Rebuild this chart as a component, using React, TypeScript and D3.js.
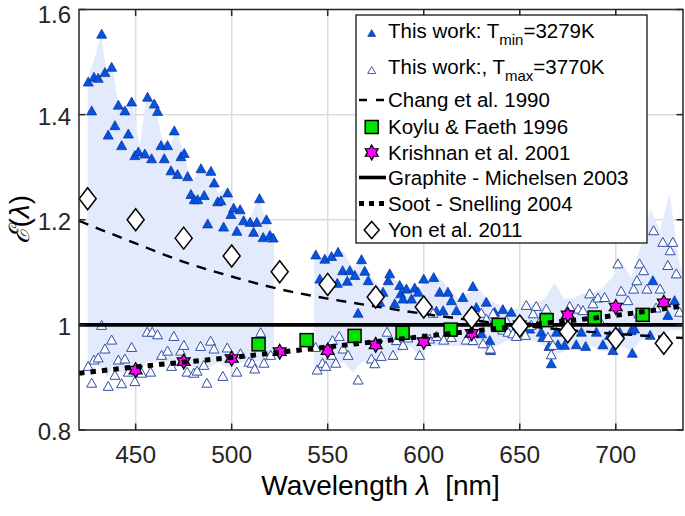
import * as d3 from "d3";

// This work, T_min (filled triangles)
const tminLambda = [
  425.3, 427.1, 428.3, 430.5, 432.3, 434.0, 435.7, 437.5, 439.2, 441.0, 442.7, 444.4, 446.2, 447.9, 449.6,
  451.4, 454.8, 456.2, 458.3, 459.7, 461.4, 463.2, 464.9, 466.6, 468.4, 470.1, 471.8, 473.6, 475.3, 477.1,
  478.8, 480.5, 482.3, 484.0, 485.7, 487.5, 489.2, 490.9, 492.7, 494.4, 495.8, 497.9, 499.6, 501.0, 502.7,
  504.4, 506.2, 509.6, 511.4, 513.1, 514.5, 516.4, 518.1, 519.9, 521.6,
  543.8, 545.9, 548.5, 552.0, 555.0, 555.4, 557.8, 560.2, 561.5, 564.1, 565.8, 567.6, 569.3, 571.1, 577.1,
  578.8, 581.5, 582.3, 584.9, 587.5, 588.0, 589.2, 591.0, 593.6, 595.3, 597.1, 600.0, 605.2, 606.6, 608.3,
  610.1, 612.6, 614.4, 617.0, 620.4, 625.6, 627.4, 630.1, 632.6, 634.4, 634.8, 636.9, 641.2, 645.6, 655.2,
  661.2, 662.0, 665.2, 666.4, 669.1, 669.9, 673.3, 679.4, 682.1, 684.3, 689.9, 693.3, 696.8, 698.5, 702.0,
  708.0, 708.6, 709.8, 717.9, 719.3, 727.1, 730.6,
];
const tminValue = [
  1.463, 1.408, 1.472, 1.470, 1.554, 1.481, 1.362, 1.491, 1.380, 1.419, 1.342, 1.408, 1.364, 1.425, 1.323,
  1.330, 1.326, 1.434, 1.317, 1.421, 1.407, 1.342, 1.317, 1.342, 1.294, 1.370, 1.287, 1.321, 1.327, 1.283,
  1.249, 1.239, 1.239, 1.298, 1.247, 1.193, 1.293, 1.271, 1.235, 1.237, 1.187, 1.252, 1.211, 1.223, 1.179,
  1.220, 1.199, 1.196, 1.177, 1.196, 1.241, 1.167, 1.201, 1.171, 1.166,
  1.134, 1.088, 1.126, 1.131, 1.080, 1.139, 1.104, 1.084, 1.104, 1.095, 1.023, 1.125, 1.103, 1.085, 1.044,
  1.063, 1.085, 1.098, 1.041, 1.076, 1.060, 1.050, 1.069, 1.050, 1.071, 1.063, 1.088, 1.091, 1.027, 1.063,
  1.028, 1.063, 1.047, 1.028, 1.053, 1.074, 1.034, 0.984, 1.044, 0.971, 0.952, 1.025, 1.030, 1.025, 0.993,
  0.987, 0.977, 0.960, 0.927, 0.987, 0.963, 0.962, 0.963, 0.987, 0.960, 0.987, 0.963, 0.981, 0.952, 0.987,
  0.990, 0.947, 0.993, 0.981, 1.085, 1.019, 1.047,
];

// This work, T_max (open triangles)
const tmaxLambda = [
  425.3, 427.1, 428.3, 430.5, 432.3, 434.0, 435.7, 437.5, 439.2, 441.0, 442.7, 444.4, 446.2, 447.9, 449.6,
  453.1, 456.0, 457.8, 458.6, 461.4, 463.5, 466.6, 468.7, 469.9, 473.4, 475.1, 476.8, 480.3, 482.0, 483.8,
  485.5, 487.1, 489.0, 490.8, 495.4, 497.7, 502.7, 504.6, 509.0, 510.7, 512.0, 515.1, 516.8, 520.3,
  543.7, 544.5, 547.3, 549.0, 552.0, 552.5, 554.2, 556.0, 558.0, 560.6, 565.8, 572.8, 574.5, 577.9, 580.9,
  584.0, 585.8, 589.2, 591.8, 597.9, 603.1, 604.9, 606.6, 610.4, 614.4, 622.1, 625.6, 630.0, 630.9, 632.6,
  634.7, 636.1, 641.2, 642.9, 643.9, 646.4, 648.2, 652.9, 653.4, 656.0, 657.0, 658.6, 661.2, 663.8, 664.7,
  666.4, 667.3, 676.0, 680.4, 682.9, 686.4, 688.1, 690.7, 691.6, 694.2, 701.1, 702.8, 706.3, 709.3, 711.0,
  712.4, 712.0, 714.5, 716.2, 719.7, 721.0, 723.1, 724.5, 727.1, 728.3, 729.7, 731.5, 733.2,
];
const tmaxValue = [
  0.922, 0.890, 0.934, 0.938, 1.000, 0.955, 0.884, 0.972, 0.905, 0.934, 0.889, 0.936, 0.911, 0.958, 0.893,
  0.909, 0.987, 0.911, 0.987, 0.982, 0.943, 0.951, 0.922, 0.979, 0.951, 0.962, 0.911, 0.909, 0.913, 0.960,
  0.924, 0.890, 0.970, 0.955, 0.903, 0.957, 0.911, 0.946, 0.930, 0.928, 0.917, 0.986, 0.928, 0.943,
  0.958, 0.915, 0.928, 0.922, 0.943, 0.971, 0.928, 0.979, 0.955, 0.943, 0.896, 0.936, 0.927, 0.941, 0.987,
  0.943, 0.971, 0.962, 0.976, 0.943, 0.974, 1.023, 0.979, 0.972, 0.977, 0.972, 0.971, 1.023, 0.965, 1.012,
  0.955, 1.022, 0.991, 1.009, 0.987, 0.984, 0.979, 0.981, 1.038, 1.000, 1.022, 1.036, 1.012, 1.031, 0.977,
  0.944, 0.962, 1.036, 1.031, 1.028, 1.060, 1.041, 1.052, 1.009, 1.053, 1.117, 1.065, 1.047, 1.069, 1.085,
  1.117, 1.022, 1.104, 1.069, 1.180, 1.033, 1.069, 1.158, 1.114, 1.142, 1.158, 1.098, 1.025,
];

// shaded spread of the measured spectra (gap marked with null)
const bandLambda = [
  425, 428, 432, 435, 438, 441, 445, 448, 452, 456, 460, 464, 468, 471, 475, 479, 484, 489, 493, 497, 501,
  505, 509, 514, 518, 522, 532,
  543, 548, 553, 558, 563, 568, 573, 578, 583, 588, 593, 598, 603, 608, 613, 618, 623, 628, 633, 638, 643,
  648, 653, 658, 663, 668, 673, 678, 683, 688, 693, 698, 703, 708, 713, 718, 723, 728, 733, 735,
];
const bandUpper = [
  1.47, 1.5, 1.55, 1.48, 1.49, 1.42, 1.41, 1.43, 1.34, 1.44, 1.42, 1.35, 1.34, 1.37, 1.33, 1.27, 1.3, 1.29,
  1.25, 1.26, 1.23, 1.22, 1.2, 1.24, 1.2, 1.17, null,
  1.13, 1.13, 1.13, 1.14, 1.11, 1.12, 1.09, 1.07, 1.09, 1.08, 1.07, 1.07, 1.09, 1.09, 1.07, 1.05, 1.06, 1.07,
  1.05, 1.04, 1.03, 1.03, 1.04, 1.04, 1.05, 1.08, 1.05, 1.05, 1.06, 1.06, 1.07, 1.09, 1.12, 1.09, 1.15, 1.22,
  1.18, 1.25, 1.12, 1.1,
];
const bandLower = [
  0.92, 0.93, 0.92, 0.9, 0.92, 0.91, 0.91, 0.92, 0.91, 0.93, 0.93, 0.93, 0.93, 0.92, 0.93, 0.92, 0.92, 0.92,
  0.93, 0.92, 0.92, 0.93, 0.93, 0.93, 0.93, 0.94, null,
  0.91, 0.92, 0.92, 0.93, 0.91, 0.93, 0.93, 0.94, 0.94, 0.95, 0.96, 0.94, 0.96, 0.96, 0.96, 0.96, 0.96, 0.96,
  0.95, 0.96, 0.97, 0.97, 0.97, 0.97, 0.96, 0.94, 0.95, 0.96, 0.96, 0.96, 0.95, 0.95, 0.96, 0.95, 0.97, 0.98,
  0.98, 0.99, 0.99, 0.99,
];

// Chang et al. 1990
const changLambda = [420.5, 450, 475, 500, 525, 550, 575, 600, 625, 650, 675, 700, 735];
const changValue = [1.198, 1.155, 1.12, 1.092, 1.068, 1.05, 1.035, 1.021, 1.009, 0.999, 0.99, 0.983, 0.975];

// Koylu & Faeth 1996
const koyluLambda = [514, 539, 564, 589, 614, 639, 664, 689, 714];
const koyluValue = [0.963, 0.971, 0.979, 0.985, 0.991, 1.0, 1.009, 1.014, 1.019];

// Krishnan et al. 2001
const krishnanLambda = [450, 475, 500, 525, 550, 575, 600, 625, 650, 675, 700, 725];
const krishnanValue = [0.914, 0.93, 0.936, 0.949, 0.951, 0.962, 0.968, 0.984, 1.0, 1.019, 1.034, 1.042];

// Graphite - Michelsen 2003
const graphiteLambda = [420.5, 735];
const graphiteValue = [1.0, 1.0];

// Soot - Snelling 2004
const sootLambda = [420.5, 450, 500, 550, 600, 650, 700, 735];
const sootValue = [0.908, 0.92, 0.938, 0.958, 0.978, 0.998, 1.018, 1.036];

// Yon et al. 2011
const yonLambda = [425, 450, 475, 500, 525, 550, 575, 600, 625, 650, 675, 700, 725];
const yonValue = [1.24, 1.2, 1.165, 1.131, 1.101, 1.077, 1.053, 1.034, 1.014, 0.998, 0.987, 0.974, 0.965];

const xTicks = [450, 500, 550, 600, 650, 700];
const yTicks = [0.8, 1, 1.2, 1.4, 1.6];

const W = 685;
const H = 516;
const FONT = "'Liberation Sans', Arial, Helvetica, sans-serif";

const triPath = (w: number, h: number) => `M0,${-h / 2}L${w / 2},${h / 2}L${-w / 2},${h / 2}Z`;
const diamondPath = (w: number, h: number) => `M0,${-h / 2}L${w / 2},0L0,${h / 2}L${-w / 2},0Z`;
const hexagramPath = (r: number) => {
  const pts: string[] = [];
  for (let i = 0; i < 12; i++) {
    const a = -Math.PI / 2 + (i * Math.PI) / 6;
    const rr = i % 2 === 0 ? r : r / Math.sqrt(3);
    pts.push(`${(rr * Math.cos(a)).toFixed(2)},${(rr * Math.sin(a)).toFixed(2)}`);
  }
  return "M" + pts.join("L") + "Z";
};

const FILL_TRI = "#0055e6";
const FILL_TRI_STROKE = "#10288a";
const OPEN_TRI_STROKE = "#2f4fa8";
const GREEN = "#00e400";
const MAGENTA = "#ff00ff";
const BAND = "#e2eafb";

export default function App() {
  const left = 79;
  const right = 683;
  const top = 9.5;
  const bottom = 430;

  const x = d3.scaleLinear().domain([420.5, 735]).range([left, right]);
  const y = d3.scaleLinear().domain([0.8, 1.6]).range([bottom, top]);

  const band = d3
    .area<number>()
    .defined((i) => bandUpper[i] != null)
    .x((i) => x(bandLambda[i]))
    .y0((i) => y(bandLower[i] as number))
    .y1((i) => y(bandUpper[i] as number));
  const bandD = band(d3.range(bandLambda.length)) || "";

  const line = d3
    .line<[number, number]>()
    .x((d) => x(d[0]))
    .y((d) => y(d[1]))
    .curve(d3.curveMonotoneX);

  const changD = line(changLambda.map((l, i) => [l, changValue[i]])) || "";
  const graphiteD = line(graphiteLambda.map((l, i) => [l, graphiteValue[i]])) || "";
  const sootD = line(sootLambda.map((l, i) => [l, sootValue[i]])) || "";

  const tri = triPath(10, 9);
  const star = hexagramPath(7.5);
  const diamond = diamondPath(17, 22);

  const legendX = 356;
  const legendMarkX = 371.7;
  const legendTextX = 388;
  const rows = [31, 67, 100, 127, 152.5, 177.5, 203.5, 230];

  return (
    <svg
      width={W}
      height={H}
      style={{ position: "absolute", left: 0, top: 0, background: "#fff" }}
      fontFamily={FONT}
    >
      <defs>
        <clipPath id="plotclip">
          <rect x={left} y={top} width={right - left} height={bottom - top} />
        </clipPath>
      </defs>

      {/* grid */}
      {xTicks.map((t) => (
        <line key={"gx" + t} x1={x(t)} x2={x(t)} y1={top} y2={bottom} stroke="#dcdcdc" strokeWidth={1.5} />
      ))}
      {yTicks.map((t) => (
        <line key={"gy" + t} x1={left} x2={right} y1={y(t)} y2={y(t)} stroke="#dcdcdc" strokeWidth={1.5} />
      ))}

      <g clipPath="url(#plotclip)">
        <path d={bandD} fill={BAND} stroke="none" />

        {tminLambda.map((l, i) => (
          <path
            key={"tmin" + i}
            d={tri}
            transform={`translate(${x(l)},${y(tminValue[i])})`}
            fill={FILL_TRI}
            stroke={FILL_TRI_STROKE}
            strokeWidth={0.7}
          />
        ))}
        {tmaxLambda.map((l, i) => (
          <path
            key={"tmax" + i}
            d={tri}
            transform={`translate(${x(l)},${y(tmaxValue[i])})`}
            fill="#fff"
            stroke={OPEN_TRI_STROKE}
            strokeWidth={1}
          />
        ))}

        <path d={changD} fill="none" stroke="#000" strokeWidth={2.4} strokeDasharray="10 8" />
        <path d={graphiteD} fill="none" stroke="#000" strokeWidth={3.6} />

        {koyluLambda.map((l, i) => (
          <rect
            key={"k" + i}
            x={x(l) - 6.5}
            y={y(koyluValue[i]) - 6.5}
            width={13}
            height={13}
            fill={GREEN}
            stroke="#000"
            strokeWidth={1.5}
          />
        ))}
        {krishnanLambda.map((l, i) => (
          <path
            key={"s" + i}
            d={star}
            transform={`translate(${x(l)},${y(krishnanValue[i])})`}
            fill={MAGENTA}
            stroke="#000"
            strokeWidth={1.2}
          />
        ))}

        <path d={sootD} fill="none" stroke="#000" strokeWidth={5} strokeDasharray="5.5 6" />

        {yonLambda.map((l, i) => (
          <path
            key={"y" + i}
            d={diamond}
            transform={`translate(${x(l)},${y(yonValue[i])})`}
            fill="#fff"
            stroke="#000"
            strokeWidth={1.5}
          />
        ))}
      </g>

      {/* axes box and ticks */}
      <rect x={left} y={top} width={right - left} height={bottom - top} fill="none" stroke="#262626" strokeWidth={1.5} />
      {xTicks.map((t) => (
        <g key={"xt" + t}>
          <line x1={x(t)} x2={x(t)} y1={bottom} y2={bottom - 6.5} stroke="#262626" strokeWidth={1.5} />
          <line x1={x(t)} x2={x(t)} y1={top} y2={top + 6.5} stroke="#262626" strokeWidth={1.5} />
          <text x={x(t)} y={462.5} textAnchor="middle" fontSize={24.5} fill="#262626">
            {t}
          </text>
        </g>
      ))}
      {yTicks.map((t) => (
        <g key={"yt" + t}>
          <line x1={left} x2={left + 6.5} y1={y(t)} y2={y(t)} stroke="#262626" strokeWidth={1.5} />
          <line x1={right} x2={right - 6.5} y1={y(t)} y2={y(t)} stroke="#262626" strokeWidth={1.5} />
          <text x={71} y={Math.max(y(t) + 10, 22.5)} textAnchor="end" fontSize={24} fill="#262626">
            {t === 1 ? "1" : t.toFixed(1)}
          </text>
        </g>
      ))}

      {/* axis labels */}
      <text x={380.5} y={495} textAnchor="middle" fontSize={28} fill="#000" style={{ whiteSpace: "pre" }}>
        {"Wavelength "}
        <tspan fontStyle="italic">λ</tspan>
        {"  [nm]"}
      </text>
      <text
        transform={`translate(29,${(top + bottom) / 2}) rotate(-90)`}
        textAnchor="middle"
        fontSize={28}
        fill="#000"
      >
        <tspan fontFamily="'DejaVu Serif', serif" fontStyle="italic">ℰ</tspan>
        (<tspan fontStyle="italic">λ</tspan>)
      </text>

      {/* legend */}
      <rect x={legendX} y={15} width={291} height={228} fill="#fff" stroke="#000" strokeWidth={1.2} />
      <g fontSize={20.5} fill="#000">
        <path d={triPath(8, 7)} transform={`translate(${legendMarkX},${rows[0] + 2})`} fill={FILL_TRI} stroke={FILL_TRI_STROKE} strokeWidth={0.6} />
        <text x={legendTextX} y={rows[0] + 7}>
          This work: T<tspan fontSize={15} dy={7}>min</tspan>
          <tspan dy={-7}>=3279K</tspan>
        </text>

        <path d={triPath(8, 7)} transform={`translate(${legendMarkX},${rows[1] + 3})`} fill="#fff" stroke={OPEN_TRI_STROKE} strokeWidth={0.9} />
        <text x={legendTextX} y={rows[1] + 7}>
          This work:, T<tspan fontSize={15} dy={7}>max</tspan>
          <tspan dy={-7}>=3770K</tspan>
        </text>

        <line x1={359} x2={386} y1={rows[2]} y2={rows[2]} stroke="#000" strokeWidth={2.4} strokeDasharray="8 9" />
        <text x={legendTextX} y={rows[2] + 7}>Chang et al. 1990</text>

        <rect x={legendMarkX - 6.5} y={rows[3] - 6.5} width={13} height={13} fill={GREEN} stroke="#000" strokeWidth={1.5} />
        <text x={legendTextX} y={rows[3] + 7}>Koylu &amp; Faeth 1996</text>

        <path d={star} transform={`translate(${legendMarkX},${rows[4]})`} fill={MAGENTA} stroke="#000" strokeWidth={1.2} />
        <text x={legendTextX} y={rows[4] + 7}>Krishnan et al. 2001</text>

        <line x1={359} x2={386} y1={rows[5]} y2={rows[5]} stroke="#000" strokeWidth={3.6} />
        <text x={legendTextX} y={rows[5] + 7}>Graphite - Michelsen 2003</text>

        <line x1={359} x2={386} y1={rows[6]} y2={rows[6]} stroke="#000" strokeWidth={5} strokeDasharray="5 5" />
        <text x={legendTextX} y={rows[6] + 7}>Soot - Snelling 2004</text>

        <path d={diamondPath(15, 17)} transform={`translate(${legendMarkX},${rows[7]})`} fill="#fff" stroke="#000" strokeWidth={1.5} />
        <text x={legendTextX} y={rows[7] + 7}>Yon et al. 2011</text>
      </g>
    </svg>
  );
}
